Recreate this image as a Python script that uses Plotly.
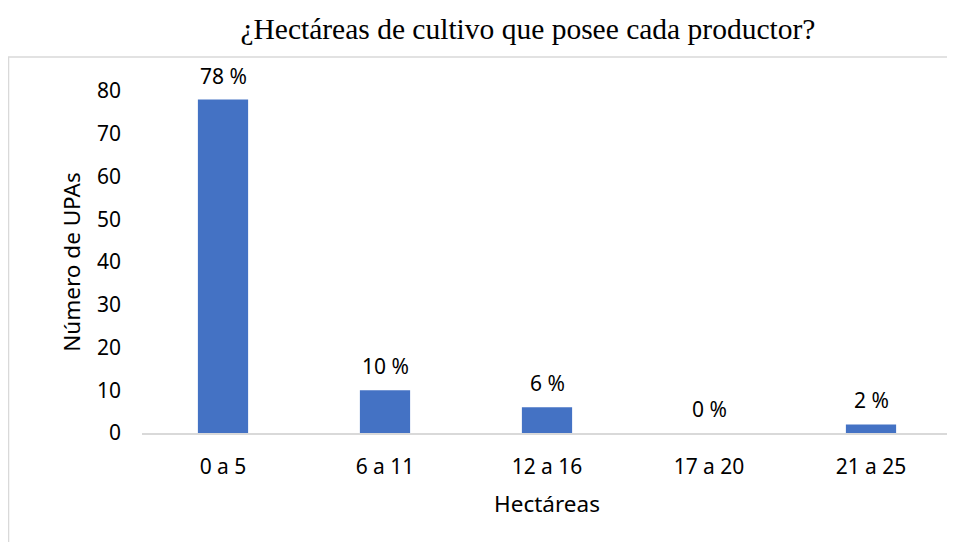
import plotly.graph_objects as go

categories = ["0 a 5", "6 a 11", "12 a 16", "17 a 20", "21 a 25"]
upas = [78, 10, 6, 0, 2]
pct_labels = ["78 %", "10 %", "6 %", "0 %", "2 %"]

bar_color = "#4472C4"
grey = "#d9d9d9"
sans = "Noto Sans"

fig = go.Figure()

fig.add_bar(
    x=categories, y=upas,
    marker=dict(color=bar_color, line=dict(width=0)),
    showlegend=False,
)

# percentage labels above each bar
for cat, val, lab in zip(categories, upas, pct_labels):
    fig.add_annotation(
        x=cat, y=val, text=lab,
        showarrow=False, yanchor="middle", yshift=24,
        font=dict(family=sans, size=21, color="#000000"),
    )

# light frame around the chart area
fig.add_shape(
    type="rect", xref="paper", yref="paper",
    x0=-0.1648, x1=1.02, y0=-0.35, y1=1.0994,
    line=dict(color=grey, width=1.5), fillcolor="rgba(0,0,0,0)",
    layer="below",
)

# page body adds an 8px offset, so the figure is 8px smaller than the window
fig.update_layout(
    width=947, height=534,
    margin=dict(l=134, r=3, t=83, b=109, autoexpand=False),
    plot_bgcolor="white",
    paper_bgcolor="white",
    bargap=0.69,
    font={"family": sans, "size": 21, "color": "#000000"},
    title={
        "text": "¿Hectáreas de cultivo que posee cada productor?",
        "font": {"family": "Liberation Serif", "size": 29.5, "color": "#000000"},
        "x": 0.549, "y": 0.9605,
        "xanchor": "center", "yanchor": "middle",
        "xref": "container", "yref": "container",
    },
    xaxis=dict(
        title=dict(text="Hectáreas", standoff=17, font=dict(family=sans, size=22.5)),
        automargin=False,
        showgrid=False, zeroline=False,
        showline=True, linecolor=grey, linewidth=1.5,
        ticks="", ticklabelstandoff=14,
        tickfont=dict(family=sans, size=21),
    ),
    yaxis=dict(
        title=dict(text="Número de UPAs", standoff=10, font=dict(family=sans, size=22.5)),
        automargin=False,
        range=[0, 80], dtick=10,
        showgrid=False, zeroline=False, showline=False,
        ticks="", ticklabelstandoff=20,
        tickfont=dict(family=sans, size=21),
    ),
)

fig.write_html("out.html")
